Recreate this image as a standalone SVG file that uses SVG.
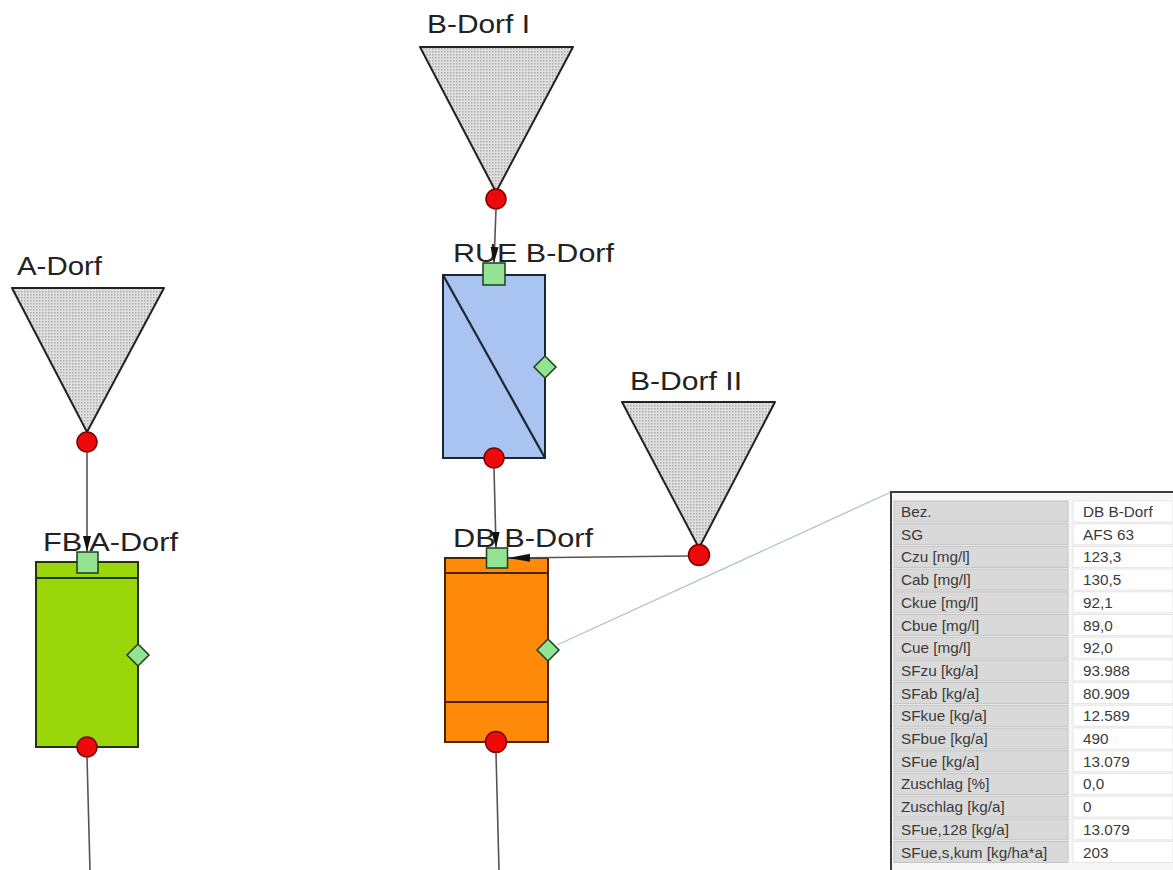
<svg xmlns="http://www.w3.org/2000/svg" width="1173" height="870" viewBox="0 0 1173 870">
<style>
.lbl{font-family:"Liberation Sans",Arial,sans-serif;font-size:26px;fill:#222}
.tri{fill:url(#dots);stroke:#222;stroke-width:2;stroke-linejoin:round}
.out{fill:#ee0a0a;stroke:#7a0000;stroke-width:1.5}
.inp{fill:#92e392;stroke:#1e3d1e;stroke-width:1.5}
.con{stroke:#555;stroke-width:1.6;fill:none}
.tk{font-family:"Liberation Sans",Arial,sans-serif;font-size:15.3px;fill:#3a3a3a}
.lc{fill:#d9d9d9;stroke:#c4c4c4;stroke-width:1}
.vc{fill:#fff;stroke:#e6e6e6;stroke-width:1}
</style>
<defs>
<pattern id="dots" width="3" height="3" patternUnits="userSpaceOnUse">
<rect width="3" height="3" fill="#e0e0e0"/>
<rect width="1.5" height="1.5" fill="#ababab"/>
</pattern>
<marker id="arr" viewBox="0 0 16 10" refX="16" refY="5" markerWidth="16" markerHeight="10" markerUnits="userSpaceOnUse" orient="auto">
<path d="M0,1 L16,5 L0,9 Z" fill="#111"/>
</marker>
<marker id="arrL" viewBox="0 0 22 10" refX="22" refY="5" markerWidth="22" markerHeight="10" markerUnits="userSpaceOnUse" orient="auto">
<path d="M0,1 L22,5 L0,9 Z" fill="#111"/>
</marker>
</defs>
<rect width="1173" height="870" fill="#fff"/>

<g id="b-dorf-i">
<text class="lbl" x="427" y="33" textLength="103" lengthAdjust="spacingAndGlyphs">B-Dorf I</text>
<polygon class="tri" points="420,47 573,47 496,192"/>
<circle class="out" cx="496" cy="199" r="10"/>
</g>

<g id="a-dorf">
<text class="lbl" x="17" y="275" textLength="85" lengthAdjust="spacingAndGlyphs">A-Dorf</text>
<polygon class="tri" points="12,288 164,288 87,432"/>
<circle class="out" cx="87" cy="442" r="10"/>
</g>

<g id="b-dorf-ii">
<text class="lbl" x="630" y="390" textLength="112" lengthAdjust="spacingAndGlyphs">B-Dorf II</text>
<polygon class="tri" points="622,402 775,402 699,548"/>
<circle class="out" cx="699" cy="555" r="10.5"/>
</g>

<g id="rue-b-dorf">
<text class="lbl" x="453" y="262" textLength="161" lengthAdjust="spacingAndGlyphs">RUE B-Dorf</text>
<rect x="443" y="275" width="102" height="183" fill="#a9c4f0" stroke="#1c2533" stroke-width="2"/>
<line x1="443" y1="275" x2="545" y2="458" stroke="#1c2533" stroke-width="2.2"/>
<rect class="inp" x="483" y="263" width="22" height="22"/>
<polygon class="inp" points="545,356 556,367 545,378 534,367"/>
<circle class="out" cx="494" cy="458" r="10"/>
</g>

<g id="db-b-dorf">
<text class="lbl" x="453" y="547" textLength="140" lengthAdjust="spacingAndGlyphs">DB B-Dorf</text>
<rect x="445" y="558" width="103" height="184" fill="#ff8a0a" stroke="#4a2400" stroke-width="2"/>
<line x1="445" y1="573" x2="548" y2="573" stroke="#4a2400" stroke-width="2"/>
<line x1="445" y1="702" x2="548" y2="702" stroke="#4a2400" stroke-width="2"/>
<rect class="inp" x="486.5" y="548" width="21" height="20"/>
<polygon class="inp" points="548,639 559,650 548,661 537,650"/>
<circle class="out" cx="496" cy="742" r="10.5"/>
</g>

<g id="fb-a-dorf">
<text class="lbl" x="43" y="551" textLength="135" lengthAdjust="spacingAndGlyphs">FB A-Dorf</text>
<rect x="36" y="562" width="102" height="185" fill="#99d60a" stroke="#25330c" stroke-width="2"/>
<line x1="36" y1="578" x2="138" y2="578" stroke="#25330c" stroke-width="2"/>
<rect class="inp" x="77" y="552" width="21" height="21"/>
<polygon class="inp" points="138,644 149,655 138,666 127,655"/>
<circle class="out" cx="87" cy="747" r="10"/>
</g>

<g id="connectors">
<line class="con" x1="496" y1="209" x2="494" y2="263" marker-end="url(#arr)"/>
<line class="con" x1="494" y1="468" x2="496" y2="548" marker-end="url(#arr)"/>
<line class="con" x1="688" y1="556" x2="508" y2="558" marker-end="url(#arrL)"/>
<line class="con" x1="87" y1="452" x2="87" y2="552" marker-end="url(#arr)"/>
<line class="con" x1="87" y1="757" x2="90" y2="870"/>
<line class="con" x1="496" y1="752.5" x2="499" y2="870"/>
<line x1="557" y1="645" x2="891" y2="492" stroke="#a9c3d6" stroke-width="1.3"/>
</g>

<g id="info-table">
<rect x="891" y="492" width="290" height="390" fill="#f6f6f6" stroke="#3c3c3c" stroke-width="2"/>
<g id="rows">
<rect class="lc" x="894" y="501" width="174" height="21"/><rect class="vc" x="1073" y="501" width="100" height="21"/>
<rect class="lc" x="894" y="523.7" width="174" height="21"/><rect class="vc" x="1073" y="523.7" width="100" height="21"/>
<rect class="lc" x="894" y="546.4" width="174" height="21"/><rect class="vc" x="1073" y="546.4" width="100" height="21"/>
<rect class="lc" x="894" y="569.1" width="174" height="21"/><rect class="vc" x="1073" y="569.1" width="100" height="21"/>
<rect class="lc" x="894" y="591.8" width="174" height="21"/><rect class="vc" x="1073" y="591.8" width="100" height="21"/>
<rect class="lc" x="894" y="614.5" width="174" height="21"/><rect class="vc" x="1073" y="614.5" width="100" height="21"/>
<rect class="lc" x="894" y="637.2" width="174" height="21"/><rect class="vc" x="1073" y="637.2" width="100" height="21"/>
<rect class="lc" x="894" y="659.9" width="174" height="21"/><rect class="vc" x="1073" y="659.9" width="100" height="21"/>
<rect class="lc" x="894" y="682.6" width="174" height="21"/><rect class="vc" x="1073" y="682.6" width="100" height="21"/>
<rect class="lc" x="894" y="705.3" width="174" height="21"/><rect class="vc" x="1073" y="705.3" width="100" height="21"/>
<rect class="lc" x="894" y="728" width="174" height="21"/><rect class="vc" x="1073" y="728" width="100" height="21"/>
<rect class="lc" x="894" y="750.7" width="174" height="21"/><rect class="vc" x="1073" y="750.7" width="100" height="21"/>
<rect class="lc" x="894" y="773.4" width="174" height="21"/><rect class="vc" x="1073" y="773.4" width="100" height="21"/>
<rect class="lc" x="894" y="796.1" width="174" height="21"/><rect class="vc" x="1073" y="796.1" width="100" height="21"/>
<rect class="lc" x="894" y="818.8" width="174" height="21"/><rect class="vc" x="1073" y="818.8" width="100" height="21"/>
<rect class="lc" x="894" y="841.5" width="174" height="21"/><rect class="vc" x="1073" y="841.5" width="100" height="21"/>
</g>
<g id="labels">
<text class="tk" x="901" y="517">Bez.</text>
<text class="tk" x="901" y="539.7">SG</text>
<text class="tk" x="901" y="562.4">Czu [mg/l]</text>
<text class="tk" x="901" y="585.1">Cab [mg/l]</text>
<text class="tk" x="901" y="607.8">Ckue [mg/l]</text>
<text class="tk" x="901" y="630.5">Cbue [mg/l]</text>
<text class="tk" x="901" y="653.2">Cue [mg/l]</text>
<text class="tk" x="901" y="675.9">SFzu [kg/a]</text>
<text class="tk" x="901" y="698.6">SFab [kg/a]</text>
<text class="tk" x="901" y="721.3">SFkue [kg/a]</text>
<text class="tk" x="901" y="744">SFbue [kg/a]</text>
<text class="tk" x="901" y="766.7">SFue [kg/a]</text>
<text class="tk" x="901" y="789.4">Zuschlag [%]</text>
<text class="tk" x="901" y="812.1">Zuschlag [kg/a]</text>
<text class="tk" x="901" y="834.8">SFue,128 [kg/a]</text>
<text class="tk" x="901" y="857.5">SFue,s,kum [kg/ha*a]</text>
</g>
<g id="values">
<text class="tk" x="1083" y="517">DB B-Dorf</text>
<text class="tk" x="1083" y="539.7">AFS 63</text>
<text class="tk" x="1083" y="562.4">123,3</text>
<text class="tk" x="1083" y="585.1">130,5</text>
<text class="tk" x="1083" y="607.8">92,1</text>
<text class="tk" x="1083" y="630.5">89,0</text>
<text class="tk" x="1083" y="653.2">92,0</text>
<text class="tk" x="1083" y="675.9">93.988</text>
<text class="tk" x="1083" y="698.6">80.909</text>
<text class="tk" x="1083" y="721.3">12.589</text>
<text class="tk" x="1083" y="744">490</text>
<text class="tk" x="1083" y="766.7">13.079</text>
<text class="tk" x="1083" y="789.4">0,0</text>
<text class="tk" x="1083" y="812.1">0</text>
<text class="tk" x="1083" y="834.8">13.079</text>
<text class="tk" x="1083" y="857.5">203</text>
</g>
</g>
</svg>
